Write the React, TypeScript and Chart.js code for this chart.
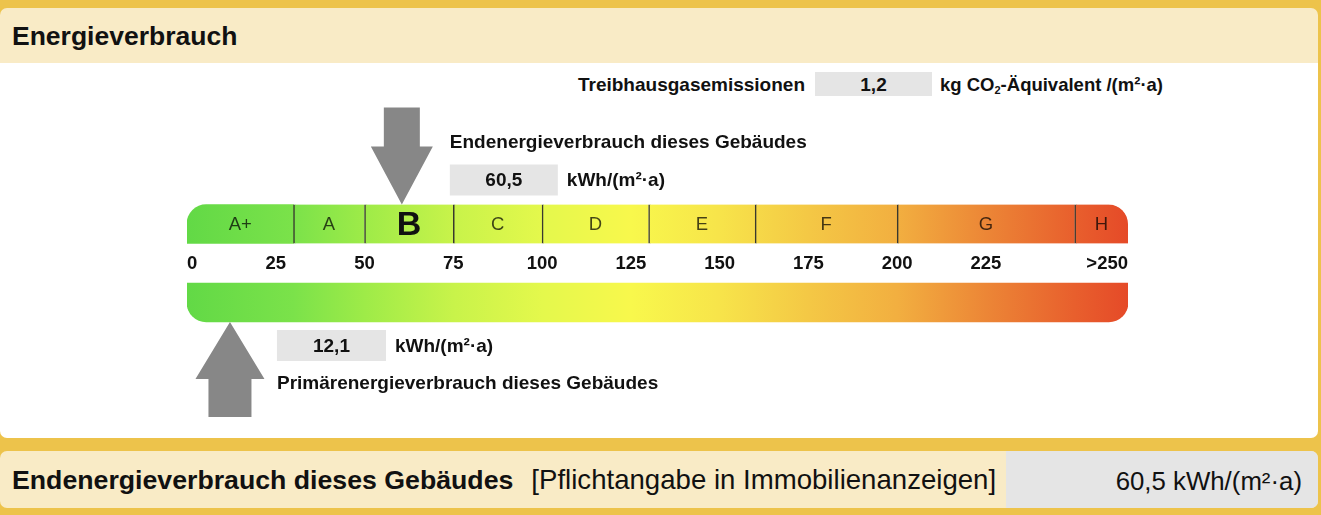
import { useEffect, useRef } from 'react';
import { Chart, registerables } from 'chart.js';

Chart.register(...registerables);

const rowLabels = ['Endenergie', 'Primärenergie'];
const classLabels = ['A+', 'A', 'B', 'C', 'D', 'E', 'F', 'G', 'H'];
const classBounds = [0, 30, 50, 75, 100, 130, 160, 200, 250, 265];
const tickValues = [0, 25, 50, 75, 100, 125, 150, 175, 200, 225];
const tickLabels = ['0', '25', '50', '75', '100', '125', '150', '175', '200', '225'];
const overflowLabel = '>250';
const currentClass = 'B';
const endEnergy = 60.5;
const primaryEnergy = 12.1;
const co2Emission = 1.2;

const FONT = '"Liberation Sans", Arial, Helvetica, sans-serif';
const YELLOW = '#EDC34B';
const CREAM = '#F9EBC6';
const GREY = '#E5E5E5';
const ARROW = '#878787';
const BAR = 39;

const gradientStops: [number, string][] = [
  [0, '#62D946'],
  [30, '#7BE24A'],
  [50, '#9EEB48'],
  [75, '#C8F34A'],
  [100, '#E4F84C'],
  [125, '#F8F84C'],
  [150, '#F7E44A'],
  [175, '#F4C845'],
  [200, '#F2AF40'],
  [225, '#EC8636'],
  [250, '#E85F2D'],
  [265, '#E54A28'],
];

const fmt = (v: number) => v.toFixed(1).replace('.', ',');

let cachedGradient: CanvasGradient | null = null;
let cachedKey = '';
function bandFill(ctx: any) {
  const chart = ctx.chart;
  const area = chart.chartArea;
  if (!area) return gradientStops[0][1];
  const key = `${area.left}-${area.right}`;
  if (!cachedGradient || cachedKey !== key) {
    const g = chart.ctx.createLinearGradient(area.left, 0, area.right, 0);
    const max = classBounds[classBounds.length - 1];
    gradientStops.forEach(([v, c]) => g.addColorStop(v / max, c));
    cachedGradient = g;
    cachedKey = key;
  }
  return cachedGradient;
}

function drawBox(ctx: CanvasRenderingContext2D, x: number, y: number, w: number, h: number, value: string, unit: string) {
  ctx.fillStyle = GREY;
  ctx.fillRect(x, y, w, h);
  ctx.fillStyle = '#111';
  ctx.font = `bold 19px ${FONT}`;
  ctx.textBaseline = 'middle';
  ctx.textAlign = 'center';
  ctx.fillText(value, x + w / 2, y + h / 2 + 1);
  ctx.textAlign = 'left';
  ctx.fillText(unit, x + w + 9, y + h / 2 + 1);
}

const energyPlugin = {
  id: 'energyLabels',
  afterDatasetsDraw(chart: any) {
    const { ctx, scales } = chart;
    const x = scales.x;
    const y = scales.y;
    const yTop = y.getPixelForValue(0);
    const yBot = y.getPixelForValue(1);
    const half = BAR / 2;
    ctx.save();

    // class letters
    ctx.textAlign = 'center';
    ctx.textBaseline = 'middle';
    classLabels.forEach((c, i) => {
      const cx = (x.getPixelForValue(classBounds[i]) + x.getPixelForValue(classBounds[i + 1])) / 2;
      if (c === currentClass) {
        ctx.font = `bold 34px ${FONT}`;
        ctx.fillStyle = '#111';
        ctx.fillText(c, cx, yTop + 2);
      } else {
        ctx.font = `18.5px ${FONT}`;
        ctx.fillStyle = 'rgba(0,0,0,0.72)';
        ctx.fillText(c, cx, yTop + 1);
      }
    });

    // scale labels between the two bands
    const tickY = (yTop + yBot) / 2 + 1;
    ctx.font = `bold 18.5px ${FONT}`;
    ctx.fillStyle = '#111';
    tickValues.forEach((v, i) => {
      ctx.textAlign = i === 0 ? 'left' : 'center';
      ctx.fillText(tickLabels[i], x.getPixelForValue(v), tickY);
    });
    ctx.textAlign = 'right';
    ctx.fillText(overflowLabel, x.getPixelForValue(classBounds[classBounds.length - 1]), tickY);

    // arrow for final energy (points down onto the class band)
    const ax = x.getPixelForValue(endEnergy);
    const tip = yTop - half;
    ctx.fillStyle = ARROW;
    ctx.beginPath();
    ctx.moveTo(ax - 18, tip - 97);
    ctx.lineTo(ax + 18, tip - 97);
    ctx.lineTo(ax + 18, tip - 58);
    ctx.lineTo(ax + 31, tip - 58);
    ctx.lineTo(ax, tip);
    ctx.lineTo(ax - 31, tip - 58);
    ctx.lineTo(ax - 18, tip - 58);
    ctx.closePath();
    ctx.fill();

    ctx.fillStyle = '#111';
    ctx.font = `bold 19px ${FONT}`;
    ctx.textAlign = 'left';
    ctx.textBaseline = 'middle';
    ctx.fillText('Endenergieverbrauch dieses Gebäudes', ax + 48, tip - 62);
    drawBox(ctx, ax + 48, tip - 40, 108, 31, fmt(endEnergy), 'kWh/(m²·a)');

    // arrow for primary energy (points up onto the lower band)
    const bx = x.getPixelForValue(primaryEnergy);
    const tip2 = yBot + half;
    ctx.fillStyle = ARROW;
    ctx.beginPath();
    ctx.moveTo(bx, tip2);
    ctx.lineTo(bx + 34.5, tip2 + 57);
    ctx.lineTo(bx + 21.5, tip2 + 57);
    ctx.lineTo(bx + 21.5, tip2 + 95);
    ctx.lineTo(bx - 21.5, tip2 + 95);
    ctx.lineTo(bx - 21.5, tip2 + 57);
    ctx.lineTo(bx - 34.5, tip2 + 57);
    ctx.closePath();
    ctx.fill();

    drawBox(ctx, bx + 47, tip2 + 8, 109, 31, fmt(primaryEnergy), 'kWh/(m²·a)');
    ctx.fillStyle = '#111';
    ctx.font = `bold 19px ${FONT}`;
    ctx.textAlign = 'left';
    ctx.fillText('Primärenergieverbrauch dieses Gebäudes', bx + 47, tip2 + 62);

    ctx.restore();
  },
};

export default function App() {
  const canvasRef = useRef<HTMLCanvasElement>(null);

  useEffect(() => {
    if (!canvasRef.current) return;
    const last = classLabels.length - 1;
    const chart = new Chart(canvasRef.current, {
      type: 'bar',
      data: {
        labels: rowLabels,
        datasets: [
          {
            label: 'Effizienzklassen',
            data: classLabels.map((_, i) => ({ y: rowLabels[0], x: [classBounds[i], classBounds[i + 1]] })) as any,
            backgroundColor: bandFill as any,
            borderColor: 'rgba(35,35,25,0.9)',
            borderWidth: ((c: any) => (c.dataIndex === 0 ? 0 : { left: 1.5, right: 0, top: 0, bottom: 0 })) as any,
            borderRadius: ((c: any) => ({
              topLeft: c.dataIndex === 0 ? 20 : 0,
              topRight: c.dataIndex === last ? 20 : 0,
              bottomLeft: 0,
              bottomRight: 0,
            })) as any,
            borderSkipped: false,
            barThickness: BAR,
            grouped: false,
          },
          {
            label: 'Primärenergie',
            data: [{ y: rowLabels[1], x: [classBounds[0], classBounds[classBounds.length - 1]] }] as any,
            backgroundColor: bandFill as any,
            borderWidth: 0,
            borderRadius: { topLeft: 0, topRight: 0, bottomLeft: 20, bottomRight: 20 },
            borderSkipped: false,
            barThickness: BAR,
            grouped: false,
          },
        ],
      },
      options: {
        indexAxis: 'y',
        animation: false,
        responsive: false,
        layout: { padding: { left: 187, right: 193, top: 184.75, bottom: 173.25 } },
        scales: {
          x: { type: 'linear', min: classBounds[0], max: classBounds[classBounds.length - 1], display: false },
          y: { type: 'category', display: false },
        },
        plugins: { legend: { display: false }, tooltip: { enabled: false } },
      },
      plugins: [energyPlugin],
    } as any);
    return () => chart.destroy();
  }, []);

  const bold = { fontFamily: FONT, fontWeight: 700, color: '#111' } as const;

  return (
    <div style={{ position: 'fixed', left: 0, top: 0, width: 1321, height: 515, background: YELLOW, overflow: 'hidden', fontFamily: FONT }}>
      <div style={{ position: 'absolute', left: 0, top: 8, width: 1318, height: 55, background: CREAM, borderRadius: '7px 7px 0 0' }} />
      <div style={{ position: 'absolute', left: 0, top: 63, width: 1318, height: 375, background: '#fff', borderRadius: '0 0 7px 7px' }} />
      <div style={{ ...bold, position: 'absolute', left: 12, top: 8, height: 55, lineHeight: '56px', fontSize: 26.5 }}>Energieverbrauch</div>

      <div style={{ ...bold, position: 'absolute', left: 0, width: 805, top: 72, height: 24, lineHeight: '25px', fontSize: 19, textAlign: 'right' }}>
        Treibhausgasemissionen
      </div>
      <div style={{ ...bold, position: 'absolute', left: 815, width: 117, top: 72, height: 24, lineHeight: '25px', fontSize: 19, textAlign: 'center', background: GREY }}>
        {fmt(co2Emission)}
      </div>
      <div style={{ ...bold, position: 'absolute', left: 940, top: 72, height: 24, lineHeight: '25px', fontSize: 18.5, whiteSpace: 'nowrap' }}>
        kg CO<sub style={{ fontSize: 11, verticalAlign: -3, lineHeight: 0 }}>2</sub>-Äquivalent /(m²·a)
      </div>

      <div style={{ position: 'absolute', left: 0, top: 451, width: 1318, height: 57, background: CREAM, borderRadius: 7 }} />
      <div style={{ position: 'absolute', left: 1006, top: 451, width: 312, height: 57, background: GREY, borderRadius: '0 7px 7px 0' }} />
      <div style={{ position: 'absolute', left: 12, top: 451, height: 57, lineHeight: '58px', fontSize: 26.7, whiteSpace: 'nowrap', color: '#111' }}>
        <span style={{ fontWeight: 700 }}>Endenergieverbrauch dieses Gebäudes</span>
        <span style={{ marginLeft: 18, fontSize: 27.6 }}>[Pflichtangabe in Immobilienanzeigen]</span>
      </div>
      <div style={{ position: 'absolute', left: 1006, width: 296, top: 451, height: 57, lineHeight: '60px', fontSize: 25.8, textAlign: 'right', color: '#111', whiteSpace: 'nowrap' }}>
        {fmt(endEnergy)} kWh/(m²·a)
      </div>

      <canvas ref={canvasRef} width={1321} height={515} style={{ position: 'absolute', left: 0, top: 0, width: 1321, height: 515, pointerEvents: 'none' }} />
    </div>
  );
}
